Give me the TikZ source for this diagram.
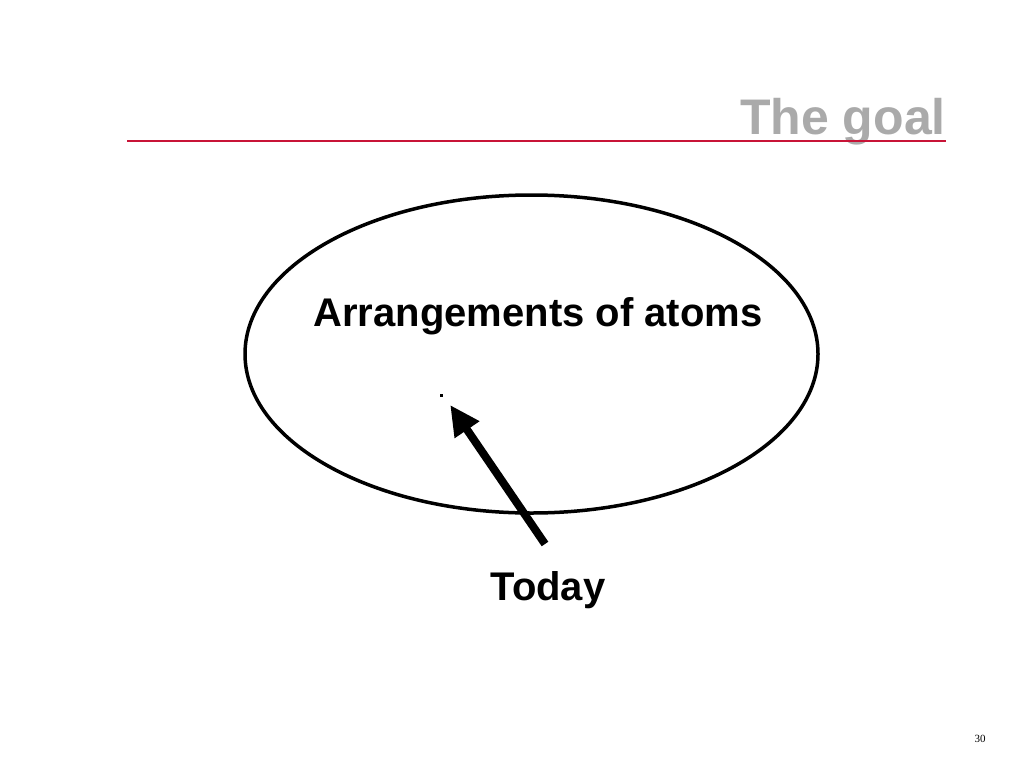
\documentclass[tikz,border=0pt]{standalone}
\usepackage{fontspec}
\setmainfont{Liberation Sans}
\newfontfamily\serifpn{Liberation Serif}
\usetikzlibrary{arrows.meta,shapes.geometric}
\definecolor{titlegray}{RGB}{170,170,170}
\definecolor{rulered}{RGB}{200,20,55}
\begin{document}
\begin{tikzpicture}[x=1pt,y=-1pt,
  lbl/.style={font=\fontsize{40}{44}\selectfont\bfseries, inner sep=0pt, anchor=base},
  bigarrow/.style={line width=8pt, -{Triangle[length=30pt,width=28pt]}}]
\useasboundingbox (0,0) rectangle (1024,768);
\fill[white] (0,0) rectangle (1024,768);
\node[font=\fontsize{50}{56}\selectfont\bfseries, text=titlegray, inner sep=0pt, anchor=base east] (title) at (946,134) {The goal};
\coordinate (rl) at (127,141);
\coordinate (rr) at (946,141);
\draw[rulered, line width=1.1pt] (rl) -- (rr);
\node[draw, ellipse, line width=3.5pt, minimum width=573pt, minimum height=318pt, inner sep=0pt] (set) at (531.5,354) {};
\node[lbl] (arr) at (538,326) {Arrangements of atoms};
\node[fill=black, minimum size=3pt, inner sep=0pt] (dot) at (441,395) {};
\node[lbl] (today) at (548,600) {Today};
\coordinate (tail) at (545,544);
\draw[bigarrow, shorten >=3pt] (tail) -- (448.5,402.5);
\node[font=\serifpn\fontsize{11}{13}\selectfont, inner sep=0pt, anchor=base] (pg) at (980,742) {30};
\end{tikzpicture}
\end{document}
